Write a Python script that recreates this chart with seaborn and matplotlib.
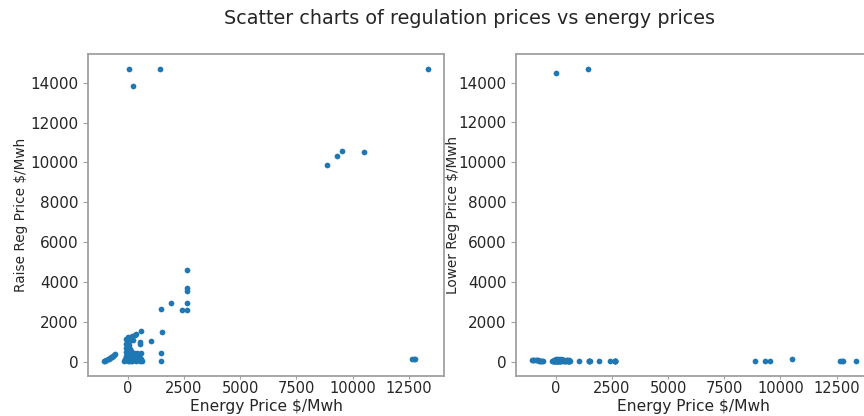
import matplotlib
matplotlib.use("Agg")
import matplotlib.pyplot as plt
import seaborn as sns
import pandas as pd

# Energy price ($/MWh) with matching raise / lower regulation prices
energy_price = [
    50, 1450, 240, 13350, 0, 8870, 9330, 9550, 10520, 12650, 12720, 12800,
    2630, 2630, 2630, 2630, 2630, 2410, 1920, 1480, 1510, 1480, 1480, 1050,
    600, 570, 560, 530, 520, 380, 330, 250, -60, -20, 150,
    -1050, -1000, -950, -900, -850, -800, -750, -700, -650, -600, -550,
    -150, -120, -100, -80, -60, -40, -20, 0, 10, 20, 30, 40, 50, 60, 70, 80,
    90, 100, 110, 120, 130, 140, 160, 180, 200, 220, 250, 280, 300, 330, 360,
    400, 430, 470, 500, 540, 580, 600, 620, -90, 20, 60, 100, 200,
]
raise_reg_price = [
    14700, 14700, 13850, 14700, 350, 9850, 10310, 10560, 10510, 120, 150, 130,
    4600, 3680, 3550, 2930, 2610, 2580, 2930, 2630, 1480, 430, 20, 1060,
    1560, 100, 60, 990, 900, 1380, 1320, 1100, 1150, 980, 1070,
    40, 60, 90, 120, 150, 190, 230, 260, 300, 330, 370,
    50, 150, 300, 500, 700, 80, 250, 20, 400, 600, 150, 820, 50, 300, 480, 200,
    650, 100, 380, 30, 550, 250, 120, 450, 60, 300, 180, 450, 90, 250, 40,
    450, 150, 300, 80, 200, 450, 130, 30, 900, 1250, 1050, 1200, 1300,
]
lower_reg_price = [
    50, 14700, 60, 50, 14500, 20, 30, 40, 110, 40, 30, 40,
    30, 25, 30, 30, 30, 20, 25, 40, 30, 20, 10, 20,
    60, 40, 30, 50, 60, 80, 70, 60, 40, 50, 60,
    80, 70, 100, 90, 70, 60, 50, 40, 40, 30, 30,
    20, 40, 30, 60, 50, 90, 30, 10, 120, 60, 20, 40, 80, 30, 100, 50,
    20, 60, 140, 30, 70, 40, 90, 30, 50, 110, 40, 60, 30, 80, 20,
    50, 40, 30, 60, 40, 30, 50, 40, 50, 60, 80, 40, 50,
]

df = pd.DataFrame({
    "energy": energy_price,
    "raise": raise_reg_price,
    "lower": lower_reg_price,
})

sns.set_style("white")
plt.rcParams["font.family"] = ["DejaVu Sans"]
plt.rcParams.update({
    "axes.edgecolor": "#a0a0a0",
    "axes.linewidth": 1.3,
    "xtick.major.size": 2.5,
    "ytick.major.size": 3.5,
    "xtick.major.pad": 1.2,
    "xtick.color": "#a0a0a0",
    "ytick.color": "#a0a0a0",
    "xtick.labelcolor": "#262626",
    "ytick.labelcolor": "#262626",
    "xtick.bottom": True,
    "ytick.left": True,
})

fig = plt.figure(figsize=(8.64, 4.16), dpi=100)
ax1 = fig.add_axes([0.1019, 0.0962, 0.412, 0.7739])
ax2 = fig.add_axes([0.5972, 0.0962, 0.412, 0.7739])

color = "#1f77b4"
sns.scatterplot(data=df, x="energy", y="raise", ax=ax1, color=color,
                s=17, linewidth=0)
sns.scatterplot(data=df, x="energy", y="lower", ax=ax2, color=color,
                s=17, linewidth=0)

for ax, ylab in [(ax1, "Raise Reg Price $/Mwh"), (ax2, "Lower Reg Price $/Mwh")]:
    ax.set_xticks([0, 2500, 5000, 7500, 10000, 12500])
    ax.set_yticks([0, 2000, 4000, 6000, 8000, 10000, 12000, 14000])
    ax.tick_params(axis="x", labelsize=10.5)
    ax.tick_params(axis="y", labelsize=11)
    ax.set_xlabel("Energy Price $/Mwh", fontsize=11.2, color="#262626")
    ax.set_ylabel(ylab, fontsize=9.8, color="#262626")
    ax.xaxis.set_label_coords(0.5, -0.072)

ax1.yaxis.set_label_coords(-0.168, 0.5)
ax2.yaxis.set_label_coords(-0.158, 0.5)

fig.suptitle("Scatter charts of regulation prices vs energy prices",
             x=0.543, y=0.955, va="center", fontsize=13.8, color="#262626")

fig.savefig("out.png", dpi=100)
